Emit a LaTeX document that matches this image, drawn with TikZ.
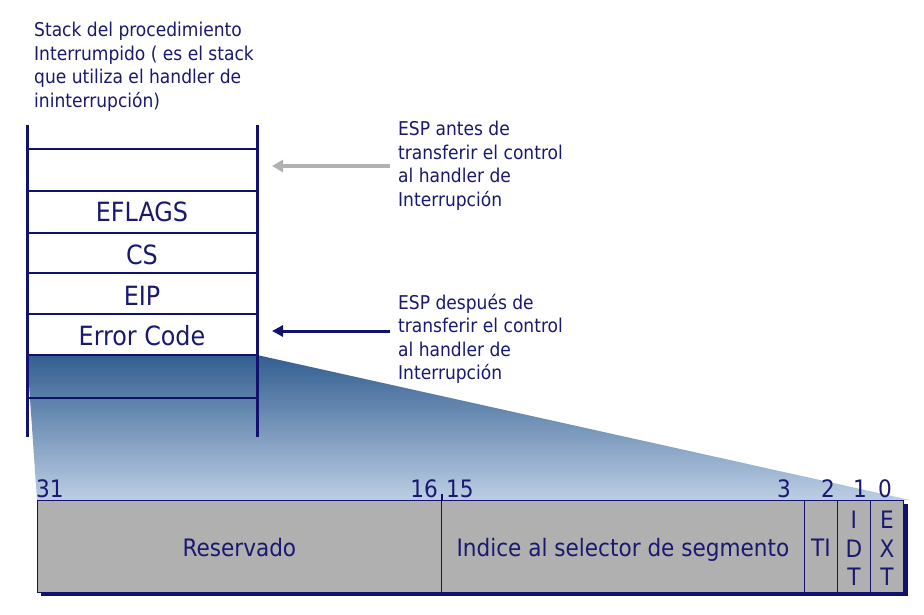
\documentclass[tikz,border=0pt]{standalone}
\usepackage{fontspec}
\setmainfont{DejaVu Sans Condensed}
\usetikzlibrary{arrows.meta}
\definecolor{navy}{RGB}{18,18,110}
\definecolor{txt}{RGB}{25,25,112}
\definecolor{fieldgray}{RGB}{176,176,176}
\definecolor{arrgray}{RGB}{178,178,178}
\definecolor{gtop}{RGB}{50,94,144}
\definecolor{gbot}{RGB}{188,206,228}
\begin{document}
\begin{tikzpicture}[x=1pt,y=-1pt,
 stackline/.style={navy, line width=3pt},
 stacklabel/.style={text=txt, font=\fontsize{26.5}{30}\selectfont, inner sep=0pt},
 note/.style={text=txt, font=\fontsize{19}{23.5}\selectfont, align=left, anchor=north west, inner sep=0pt},
 field/.style={draw=navy, line width=0.8pt, fill=fieldgray, minimum height=92pt, inner sep=0pt, anchor=north west, text=txt, font=\fontsize{24}{28.5}\selectfont},
 onelinefield/.style={field, text height=21pt, text depth=0pt},
 vtext/.style={text=txt, font=\fontsize{24}{28.5}\selectfont, align=center, inner sep=0pt},
 bitnum/.style={text=txt, font=\fontsize{24}{28}\selectfont, inner sep=0pt},
 grayarrow/.style={arrgray, line width=4pt, -{Triangle[length=11pt,width=12pt]}},
 navyarrow/.style={navy, line width=3pt, -{Triangle[length=11pt,width=11pt]}},
]
\useasboundingbox (0,0) rectangle (924,614);
% gradient zoom region
\shade[top color=gtop, bottom color=gbot] (27,355) -- (257,355) -- (910,500) -- (37,500) -- cycle;
% stack
\draw[stackline] (27,125) -- (27,437);
\draw[stackline] (257,125) -- (257,437);
\foreach \y in {149,191,233,273,314,355,398}
  \draw[navy, line width=2.6pt] (27,\y) -- (257,\y);
\node[stacklabel] (eflags) at (142,212) {EFLAGS};
\node[stacklabel] (cs) at (142,255) {CS};
\node[stacklabel] (eip) at (142,296) {EIP};
\node[stacklabel] (err) at (142,336) {Error Code};
% title
\node[note] (title) at (34,22) {Stack del procedimiento\\Interrumpido ( es el stack\\que utiliza el handler de\\ininterrupción)};
% ESP notes
\node[note] (espA) at (398,121) {ESP antes de\\transferir el control\\al handler de\\Interrupción};
\node[note] (espB) at (398,294) {ESP después de\\transferir el control\\al handler de\\Interrupción};
\coordinate (startA) at (390,166);
\coordinate (tipA) at (272,166);
\coordinate (startB) at (390,331);
\coordinate (tipB) at (272,331);
\draw[grayarrow] (startA) -- (tipA);
\draw[navyarrow] (startB) -- (tipB);
% bit field
\fill[navy] (41,504) rectangle (908,596);
\node[onelinefield, minimum width=404pt] (res) at (37,500) {Reservado};
\node[onelinefield, minimum width=363pt] (idx) at (441,500) {Indice al selector de segmento};
\node[onelinefield, minimum width=33pt] (ti) at (804,500) {TI};
\node[field, minimum width=33pt] (idt) at (837,500) {};
\node[field, minimum width=33pt] (ext) at (870,500) {};
\node[vtext] (idtt) at ([yshift=-2pt]idt.center) {I\\D\\T};
\node[vtext] (extt) at ([yshift=-2pt]ext.center) {E\\X\\T};
\draw[navy, line width=1.5pt] (res.north east) -- ++(0,-6);
% bit numbers
\node[bitnum, anchor=base west] (b31) at (36,497) {31};
\node[bitnum, anchor=base east] (b16) at (438,497) {16};
\node[bitnum, anchor=base west] (b15) at (446,497) {15};
\node[bitnum, anchor=base] (b3) at (784,497) {3};
\node[bitnum, anchor=base] (b2) at (828,497) {2};
\node[bitnum, anchor=base] (b1) at (860,497) {1};
\node[bitnum, anchor=base] (b0) at (885,497) {0};
\end{tikzpicture}
\end{document}
